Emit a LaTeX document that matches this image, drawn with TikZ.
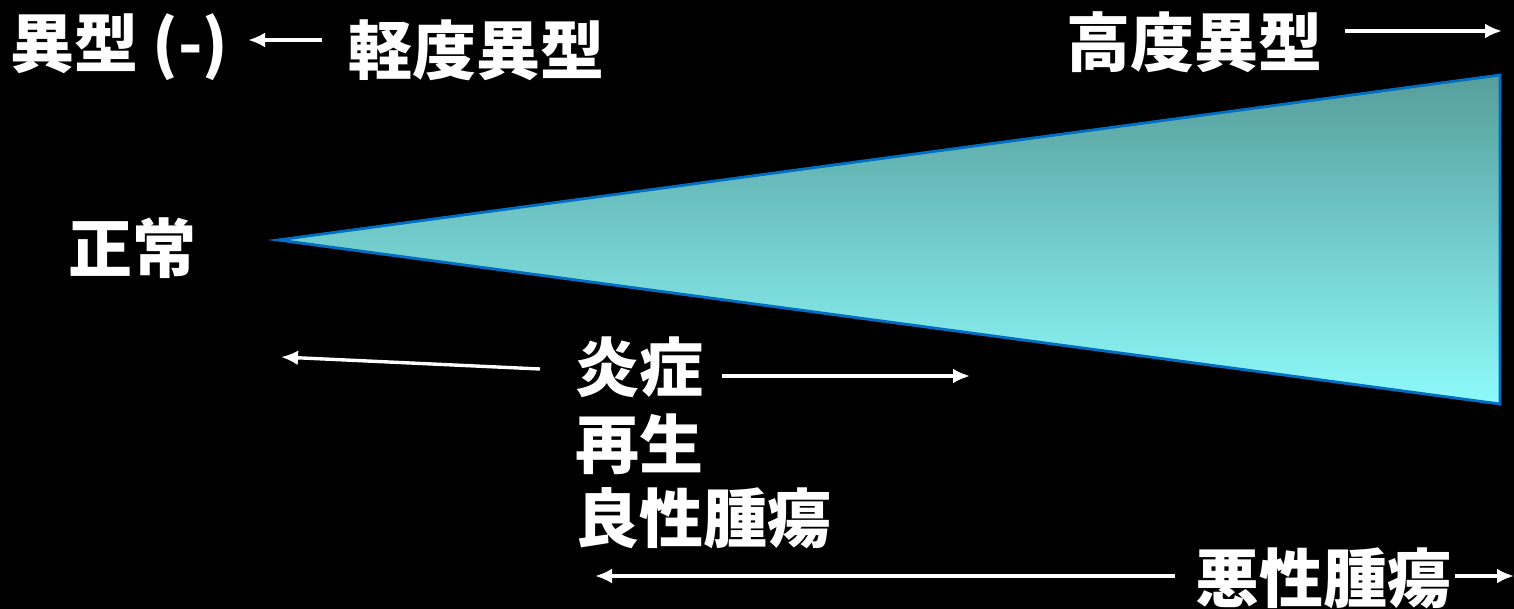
\documentclass[tikz,border=0pt]{standalone}
\usepackage{fontspec}
\newfontfamily\jp{Noto Sans CJK JP}
\usetikzlibrary{arrows.meta}
\definecolor{tealtop}{RGB}{86,158,156}
\definecolor{cyanbot}{RGB}{142,250,250}
\definecolor{edgeblue}{RGB}{0,110,195}
\tikzset{
  lbl/.style={text=white, inner sep=0pt, anchor=west, font=\jp\bfseries\fontsize{64}{72}\selectfont},
  arr/.style={draw=white, line width=3.4pt, -{Latex[length=17pt,width=15pt]}},
}
\begin{document}
\begin{tikzpicture}[x=1pt,y=-1pt]
\fill[black] (0,0) rectangle (1514,609);
\useasboundingbox (0,0) rectangle (1514,609);
% wedge
\coordinate (tip) at (278,240);
\coordinate (tr) at (1500,75);
\coordinate (br) at (1500,404);
\shade[top color=tealtop, bottom color=cyanbot] (tip) -- (tr) -- (br) -- cycle;
\draw[edgeblue, line width=2.8pt, line join=miter] (tip) -- (tr) -- (br) -- cycle;
% labels
\node[lbl] (ishi) at (10,47) {異型 (-)};
\node[lbl] (keido) at (348,50) {軽度異型};
\node[lbl] (kodo) at (1066,42) {高度異型};
\node[lbl] (seijo) at (68,248) {正常};
\node[lbl] (ensho) at (575,367) {炎症};
\node[lbl] (saisei) at (575,444) {再生};
\node[lbl] (ryosei) at (575,518) {良性腫瘍};
\node[lbl] (akusei) at (1195,578) {悪性腫瘍};
% arrow end points
\coordinate (a1s) at (322,40);
\coordinate (a1e) at (248,40);
\coordinate (a2s) at (1345,31);
\coordinate (a2e) at (1502,31);
\coordinate (a3s) at (540,369);
\coordinate (a3e) at (281,357);
\coordinate (a4s) at (722,376);
\coordinate (a4e) at (970,376);
\coordinate (a5s) at (1175,576);
\coordinate (a5e) at (595,576);
\coordinate (a6s) at (1455,576);
\coordinate (a6e) at (1514,576);
\draw[arr] (a1s) -- (a1e);
\draw[arr] (a2s) -- (a2e);
\draw[arr] (a3s) -- (a3e);
\draw[arr] (a4s) -- (a4e);
\draw[arr] (a5s) -- (a5e);
\draw[arr] (a6s) -- (a6e);
\end{tikzpicture}
\end{document}
